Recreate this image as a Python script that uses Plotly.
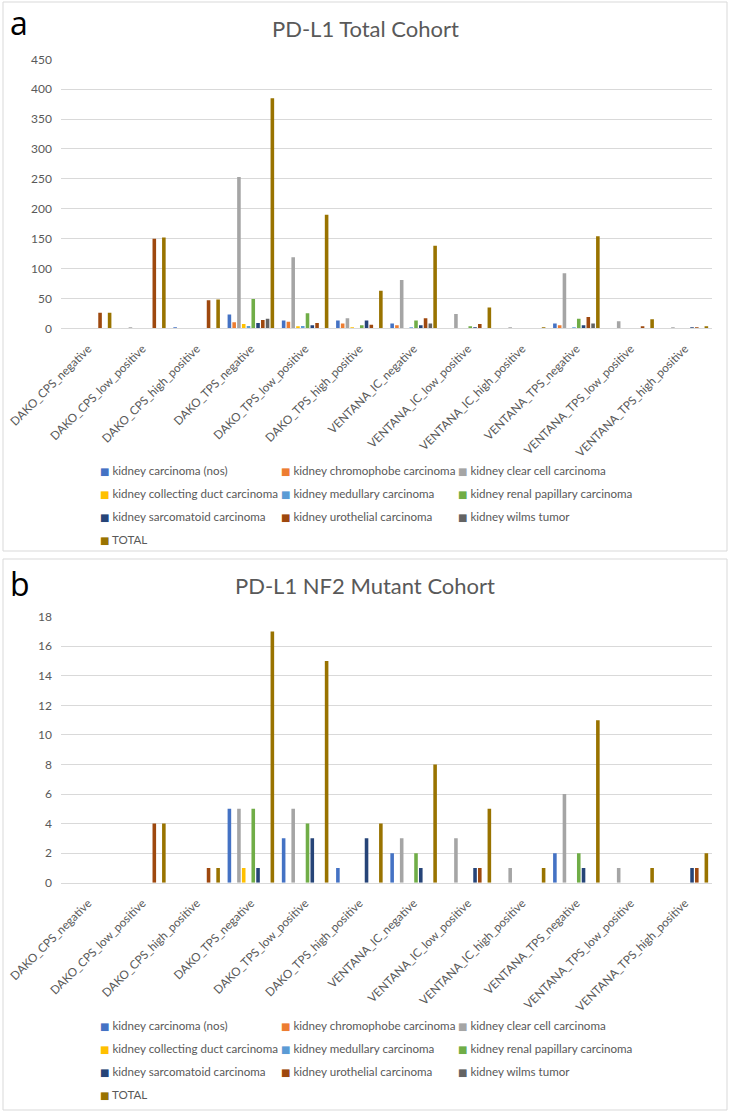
import plotly.graph_objects as go

categories = ["DAKO_CPS_negative", "DAKO_CPS_low_positive", "DAKO_CPS_high_positive",
              "DAKO_TPS_negative", "DAKO_TPS_low_positive", "DAKO_TPS_high_positive",
              "VENTANA_IC_negative", "VENTANA_IC_low_positive", "VENTANA_IC_high_positive",
              "VENTANA_TPS_negative", "VENTANA_TPS_low_positive", "VENTANA_TPS_high_positive"]

series_names = ["kidney carcinoma (nos)", "kidney chromophobe carcinoma", "kidney clear cell carcinoma",
                "kidney collecting duct carcinoma", "kidney medullary carcinoma", "kidney renal papillary carcinoma",
                "kidney sarcomatoid carcinoma", "kidney urothelial carcinoma", "kidney wilms tumor", "TOTAL"]

series_colors = ["#4472C4", "#ED7D31", "#A5A5A5", "#FFC000", "#5B9BD5", "#70AD47",
                 "#264478", "#9E480E", "#636363", "#997300"]

# Panel a: PD-L1 Total Cohort
nos_a         = [0, 0, 1, 23, 13, 13, 8, 0, 0, 8, 0, 0]
chromophobe_a = [0, 0, 0, 10, 11, 8, 5, 0, 0, 5, 0, 0]
clear_cell_a  = [0, 1, 0, 253, 119, 17, 81, 24, 1, 92, 12, 1]
collecting_a  = [0, 0, 0, 7, 2, 1, 0, 0, 0, 0, 0, 0]
medullary_a   = [0, 0, 0, 4, 4, 0, 1, 0, 0, 1, 0, 0]
papillary_a   = [0, 0, 0, 49, 25, 5, 13, 3, 0, 16, 0, 0]
sarcomatoid_a = [0, 0, 0, 9, 5, 13, 5, 1, 0, 5, 0, 1]
urothelial_a  = [26, 150, 47, 14, 9, 6, 17, 7, 0, 19, 3, 1]
wilms_a       = [0, 0, 0, 16, 0, 0, 8, 0, 0, 8, 0, 0]
total_a       = [26, 152, 48, 385, 190, 63, 138, 35, 1, 154, 15, 3]

# Panel b: PD-L1 NF2 Mutant Cohort
nos_b         = [0, 0, 0, 5, 3, 1, 2, 0, 0, 2, 0, 0]
chromophobe_b = [0, 0, 0, 0, 0, 0, 0, 0, 0, 0, 0, 0]
clear_cell_b  = [0, 0, 0, 5, 5, 0, 3, 3, 1, 6, 1, 0]
collecting_b  = [0, 0, 0, 1, 0, 0, 0, 0, 0, 0, 0, 0]
medullary_b   = [0, 0, 0, 0, 0, 0, 0, 0, 0, 0, 0, 0]
papillary_b   = [0, 0, 0, 5, 4, 0, 2, 0, 0, 2, 0, 0]
sarcomatoid_b = [0, 0, 0, 1, 3, 3, 1, 1, 0, 1, 0, 1]
urothelial_b  = [0, 4, 1, 0, 0, 0, 0, 1, 0, 0, 0, 1]
wilms_b       = [0, 0, 0, 0, 0, 0, 0, 0, 0, 0, 0, 0]
total_b       = [0, 4, 1, 17, 15, 4, 8, 5, 1, 11, 1, 2]

values_a = [nos_a, chromophobe_a, clear_cell_a, collecting_a, medullary_a,
            papillary_a, sarcomatoid_a, urothelial_a, wilms_a, total_a]
values_b = [nos_b, chromophobe_b, clear_cell_b, collecting_b, medullary_b,
            papillary_b, sarcomatoid_b, urothelial_b, wilms_b, total_b]

W, H = 731, 1115
PL, PR = 61, 712
PW = PR - PL


def px(x):
    return (x - PL) / PW


def py(y):
    return 1 - y / H


FONT = "Lato"
GREY = "#595959"
GRID = "#D9D9D9"

col_legends_a = ["legend", "legend3", "legend4"]
col_legends_b = ["legend2", "legend5", "legend6"]

fig = go.Figure()

for panel, values, xa, ya, legs in [("a", values_a, "x", "y", col_legends_a),
                                    ("b", values_b, "x2", "y2", col_legends_b)]:
    for name, col, vals in zip(series_names, series_colors, values):
        fig.add_trace(go.Bar(x=categories, y=vals, name=name, marker_color=col,
                             marker_line_width=0, xaxis=xa, yaxis=ya,
                             legendgroup=panel + name, showlegend=False))
    for i, (name, col) in enumerate(zip(series_names, series_colors)):
        label = ("<span style='font-family:DejaVu Sans;font-size:10px;color:%s'>\u25A0</span> %s"
                 % (col, name))
        fig.add_trace(go.Scatter(x=[None], y=[None], mode="markers", name=label,
                                 marker=dict(symbol="square", size=1, color="rgba(0,0,0,0)",
                                             line=dict(width=0)),
                                 xaxis=xa, yaxis=ya, legend=legs[i % 3],
                                 legendgroup=panel + name, showlegend=True))

xaxis_common = dict(type="category", tickangle=-45, showgrid=False, showline=True,
                    linecolor=GRID, linewidth=1, ticks="", zeroline=False,
                    tickfont=dict(family=FONT, size=11.7, color=GREY),
                    ticklabelstandoff=8, domain=[0, 1])
yaxis_common = dict(showgrid=True, gridcolor=GRID, gridwidth=1, zeroline=False,
                    showline=False, ticks="",
                    tickfont=dict(family=FONT, size=12, color=GREY),
                    ticklabelstandoff=8)

legend_common = dict(orientation="v", xanchor="left", yanchor="top",
                     font=dict(family=FONT, size=11.6, color=GREY),
                     tracegroupgap=4.3, bgcolor="rgba(0,0,0,0)", borderwidth=0,
                     itemclick=False, itemdoubleclick=False)

col_x = [60, 241, 418]
legend_layout = {}
for legs, top in [(col_legends_a, 455.5), (col_legends_b, 1010.5)]:
    for lname, cx in zip(legs, col_x):
        legend_layout[lname] = dict(x=px(cx), y=py(top), **legend_common)

fig.update_layout(
    width=W, height=H,
    paper_bgcolor="white", plot_bgcolor="white",
    margin=dict(l=PL, r=W - PR, t=0, b=0, autoexpand=False),
    barmode="group", bargap=0.12, bargroupgap=0.25,
    xaxis=dict(anchor="y", **xaxis_common),
    yaxis=dict(anchor="x", domain=[py(328.3), py(59.3)], range=[0, 450], dtick=50, **yaxis_common),
    xaxis2=dict(anchor="y2", **xaxis_common),
    yaxis2=dict(anchor="x2", domain=[py(882.7), py(616.7)], range=[0, 18], dtick=2, **yaxis_common),
    showlegend=True,
    shapes=[
        dict(type="rect", xref="paper", yref="paper", x0=px(3), x1=px(727), y0=py(551), y1=py(2),
             line=dict(color=GRID, width=1), fillcolor="rgba(0,0,0,0)", layer="below"),
        dict(type="rect", xref="paper", yref="paper", x0=px(3), x1=px(727), y0=py(1110), y1=py(559),
             line=dict(color=GRID, width=1), fillcolor="rgba(0,0,0,0)", layer="below"),
    ],
    annotations=[
        dict(text="a", x=px(8), y=py(23), xref="paper", yref="paper", xanchor="left",
             yanchor="middle", showarrow=False, font=dict(family="Open Sans", size=32, color="black")),
        dict(text="PD-L1 Total Cohort", x=px(365), y=py(29), xref="paper", yref="paper",
             xanchor="center", yanchor="middle", showarrow=False,
             font=dict(family=FONT, size=22, color=GREY)),
        dict(text="b", x=px(8), y=py(583), xref="paper", yref="paper", xanchor="left",
             yanchor="middle", showarrow=False, font=dict(family="Open Sans", size=32, color="black")),
        dict(text="PD-L1 NF2 Mutant Cohort", x=px(365), y=py(585), xref="paper", yref="paper",
             xanchor="center", yanchor="middle", showarrow=False,
             font=dict(family=FONT, size=22, color=GREY)),
    ],
    **legend_layout,
)

fig.write_html("out.html", config={"displayModeBar": False},
               post_script="document.body.style.margin='0px';")
